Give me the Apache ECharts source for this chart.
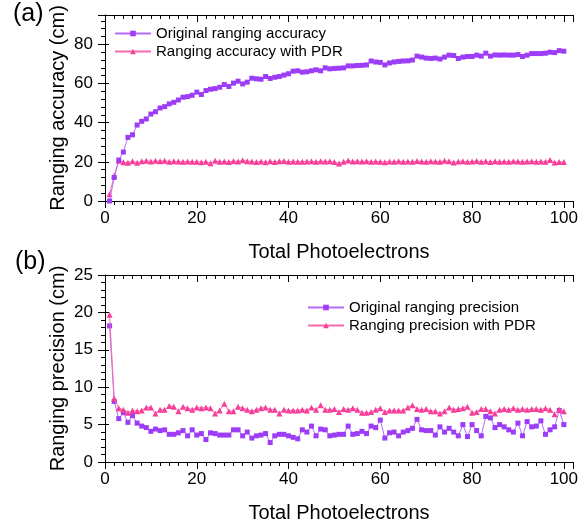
<!DOCTYPE html>
<html>
<head>
<meta charset="utf-8">
<script src="https://cdn.jsdelivr.net/npm/echarts@6/dist/echarts.min.js"></script>
<style>
html,body{margin:0;padding:0;background:#fff;}
#chart{width:582px;height:529px;}
</style>
</head>
<body>
<div id="chart"></div>
<script>
// x values (Total Photoelectrons)
const photoelectrons = [1,2,3,4,5,6,7,8,9,10,11,12,13,14,15,16,17,18,19,20,21,22,23,24,25,26,27,28,29,30,31,32,33,34,35,36,37,38,39,40,41,42,43,44,45,46,47,48,49,50,51,52,53,54,55,56,57,58,59,60,61,62,63,64,65,66,67,68,69,70,71,72,73,74,75,76,77,78,79,80,81,82,83,84,85,86,87,88,89,90,91,92,93,94,95,96,97,98,99,100];

// (a) Ranging accuracy (cm)
const originalAccuracy = [
  0,12,20.9,25,32.5,33.8,38.8,40.7,41.9,44.4,
  45.6,47.5,48.2,49.6,50.4,51.6,53,53.3,54,55.6,
  54.4,56.4,57.1,57.4,58.1,59.5,58.5,60.2,61.2,59.8,
  60.7,62.7,62.4,62.2,63.6,62.6,63.2,63.6,64.3,65,
  66.3,66.5,65.8,66,66.5,67,66.5,68,67.5,67.7,
  67.8,68,69,69,69.2,69.3,69.5,71.5,71,70.8,
  69.5,70.5,71,71.3,71.5,71.6,72,74,73.5,73,
  72.8,73,72.5,73.5,74.5,74.3,72.8,73.5,73.8,73.8,
  74.5,74,75.5,74,74.6,74.5,74.6,74.5,74.5,74.8,
  73.8,74.5,75.3,75.3,75.3,75.5,76,75.8,76.8,76.5
];
const pdrAccuracy = [
  3.5,13,20.5,19.8,19.6,20.3,19.6,20.3,20.5,20.2,
  20.5,20.3,20.6,20.1,20.3,20.2,20,20.2,20.1,20,
  19.8,20.1,19.3,20.6,20,20.2,19.9,20.4,20.2,20.8,
  20.3,20.2,19.9,20.2,19.8,20.3,19.9,20.3,20.4,20,
  20.2,20,20.1,20.2,20.3,20.1,20.3,20.2,20.3,19.9,
  19.2,20,20.7,20.2,20.3,20.2,20.3,20.1,20.2,20.1,
  19.8,20.2,20.1,20.3,20.1,20.2,20,20.4,20.2,20.1,
  20.3,20.2,20.1,20.5,20.3,19.7,20.2,20.3,20,20.2,
  20.4,20.1,20.3,19.9,20.3,20.1,20.2,20.1,20.3,20.2,
  20,20.2,20.3,20.1,20.2,20,21,19.7,19.9,19.9
];

// (b) Ranging precision (cm)
const originalPrecision = [
  18.2,8.1,5.8,6.6,5.3,6.2,5.2,4.8,4.6,4.1,
  4.4,4.2,4.3,3.7,3.7,3.9,4.2,3.5,4.3,3.6,
  3.8,3.0,3.9,3.8,3.6,3.6,3.6,4.3,4.3,3.5,
  4.0,3.2,3.5,3.6,3.8,2.6,3.5,3.7,3.7,3.5,
  3.3,3.1,4.3,4.0,4.8,3.5,4.4,4.3,3.5,3.6,
  3.7,3.7,4.8,3.7,3.8,4.1,3.8,4.8,4.6,5.6,
  3.2,3.9,4.0,3.5,4.0,4.2,4.5,5.7,4.3,4.2,
  4.2,3.6,4.7,4.0,4.5,4.0,3.5,5.0,3.4,5.0,
  4.2,3.5,6.1,5.9,4.6,5.0,4.7,4.3,4.0,5.2,
  3.5,5.4,4.7,4.8,5.5,3.7,4.3,4.7,6.9,5.0
];
const pdrPrecision = [
  19.7,8.5,7.2,7.0,6.6,6.9,6.8,6.9,7.3,7.3,
  6.5,7.0,7.0,7.5,7.4,6.8,7.4,7.2,7.0,7.3,
  7.2,7.3,7.2,6.5,6.9,7.8,6.8,6.8,7.4,7.2,
  7.0,6.8,7.0,7.2,7.3,7.0,7.0,6.5,7.0,6.9,
  6.9,6.9,7.0,6.9,7.3,7.0,7.6,7.0,7.0,7.1,
  6.7,7.1,7.0,7.2,7.0,6.6,6.6,6.7,7.0,7.2,
  6.7,6.9,6.9,6.9,6.9,7.3,7.6,7.1,7.0,7.1,
  6.8,6.8,6.5,6.8,7.3,7.0,7.1,7.2,7.4,6.6,
  6.7,7.1,7.1,6.8,6.5,7.0,7.1,7.0,7.2,7.0,
  7.1,7.0,7.1,7.1,7.0,7.2,7.0,6.4,7.0,6.8
];

// tick labels
const xTicks = [0,20,40,60,80,100];
const accTicks = [0,20,40,60,80];
const precTicks = [0,5,10,15,20,25];

const seriesNames = {
  origAcc: 'Original ranging accuracy',
  pdrAcc: 'Ranging accuracy with PDR',
  origPrec: 'Original ranging precision',
  pdrPrec: 'Ranging precision with PDR'
};

const PURPLE = '#9D3CF7';
const PURPLE_LINE = '#B46BFA';
const PINK = '#F73D98';
const PINK_LINE = '#F76AB0';
const FONT = 'Liberation Sans, Arial, sans-serif';

function pairs(ys){ return photoelectrons.map((x,i)=>[x, ys[i]]); }
function fmt(list){ return v => (list.indexOf(v) >= 0 ? String(v) : ''); }

function xBottom(gi){
  return {
    type:'value', gridIndex:gi, position:'bottom', min:0, max:102, interval:20,
    name:'Total Photoelectrons', nameLocation:'middle', nameGap:41, nameMoveOverlap:false,
    nameTextStyle:{fontFamily:FONT, fontSize:20, color:'#000'},
    axisLine:{show:true, onZero:false, lineStyle:{color:'#000', width:1}},
    axisTick:{show:true, inside:false, length:7, lineStyle:{color:'#000'}},
    minorTick:{show:true, splitNumber:10, length:4, lineStyle:{color:'#000'}},
    axisLabel:{fontFamily:FONT, fontSize:17, color:'#000', margin:9, formatter:fmt(xTicks)},
    splitLine:{show:false}
  };
}
function xTop(gi){
  return {
    type:'value', gridIndex:gi, position:'top', min:0, max:102, interval:20,
    axisLine:{show:true, onZero:false, lineStyle:{color:'#000', width:1}},
    axisTick:{show:true, inside:true, length:7, lineStyle:{color:'#000'}},
    minorTick:{show:true, splitNumber:10, length:4, lineStyle:{color:'#000'}},
    axisLabel:{show:false}, splitLine:{show:false}
  };
}
function yLeft(gi, max, interval, ticks, name){
  return {
    type:'value', gridIndex:gi, position:'left', min:0, max:max, interval:interval,
    name:name, nameLocation:'middle', nameGap:37, nameRotate:90, nameMoveOverlap:false,
    nameTextStyle:{fontFamily:FONT, fontSize:20, color:'#000'},
    axisLine:{show:true, onZero:false, lineStyle:{color:'#000', width:1}},
    axisTick:{show:true, inside:false, length:7, lineStyle:{color:'#000'}},
    minorTick:{show:true, splitNumber:5, length:4, lineStyle:{color:'#000'}},
    axisLabel:{fontFamily:FONT, fontSize:17, color:'#000', margin:12, formatter:fmt(ticks)},
    splitLine:{show:false}
  };
}
function yRight(gi, max, interval, ticks){
  return {
    type:'value', gridIndex:gi, position:'right', min:0, max:max, interval:interval,
    axisLine:{show:false},
    axisTick:{show:true, inside:false, length:4, lineStyle:{color:'#000'},
      customValues: ticks},
    minorTick:{show:false},
    axisLabel:{show:false}, splitLine:{show:false}
  };
}

const chart = echarts.init(document.getElementById('chart'), null, {renderer:'canvas'});
chart.setOption({
  animation:false,
  backgroundColor:'#fff',
  textStyle:{fontFamily:FONT},
  graphic:[
    {type:'text', left:13, top:2, style:{text:'(a)', font:'25px Liberation Sans, Arial, sans-serif', fill:'#000'}},
    {type:'text', left:15, top:250, style:{text:'(b)', font:'25px Liberation Sans, Arial, sans-serif', fill:'#000'}}
  ],
  grid:[
    {left:105, top:15, width:468, height:186},
    {left:105, top:275, width:468, height:187}
  ],
  legend:[
    {orient:'vertical', left:109, top:21, itemWidth:36, itemHeight:7, itemGap:3,
     data:[seriesNames.origAcc, seriesNames.pdrAcc],
     textStyle:{fontFamily:FONT, fontSize:15, color:'#000', lineHeight:15}},
    {orient:'vertical', left:302, top:295, itemWidth:36, itemHeight:7, itemGap:3,
     data:[seriesNames.origPrec, seriesNames.pdrPrec],
     textStyle:{fontFamily:FONT, fontSize:15, color:'#000', lineHeight:15}}
  ],
  xAxis:[xBottom(0), xTop(0), xBottom(1), xTop(1)],
  yAxis:[
    yLeft(0, 95, 20, accTicks, 'Ranging accuracy (cm)'),
    yRight(0, 95, 20, accTicks),
    yLeft(1, 25, 5, precTicks, 'Ranging precision (cm)'),
    yRight(1, 25, 5, precTicks)
  ],
  series:[
    {name:seriesNames.pdrAcc, type:'line', xAxisIndex:0, yAxisIndex:0, data:pairs(pdrAccuracy),
     symbol:'triangle', symbolSize:6, itemStyle:{color:PINK}, lineStyle:{color:PINK_LINE, width:1}, z:2},
    {name:seriesNames.origAcc, type:'line', xAxisIndex:0, yAxisIndex:0, data:pairs(originalAccuracy),
     symbol:'rect', symbolSize:5, itemStyle:{color:PURPLE}, lineStyle:{color:PURPLE_LINE, width:1}, z:3},
    {name:seriesNames.origPrec, type:'line', xAxisIndex:2, yAxisIndex:2, data:pairs(originalPrecision),
     symbol:'rect', symbolSize:5, itemStyle:{color:PURPLE}, lineStyle:{color:PURPLE_LINE, width:1}, z:2},
    {name:seriesNames.pdrPrec, type:'line', xAxisIndex:2, yAxisIndex:2, data:pairs(pdrPrecision),
     symbol:'triangle', symbolSize:6, itemStyle:{color:PINK}, lineStyle:{color:PINK_LINE, width:1}, z:3}
  ]
});
</script>
</body>
</html>
